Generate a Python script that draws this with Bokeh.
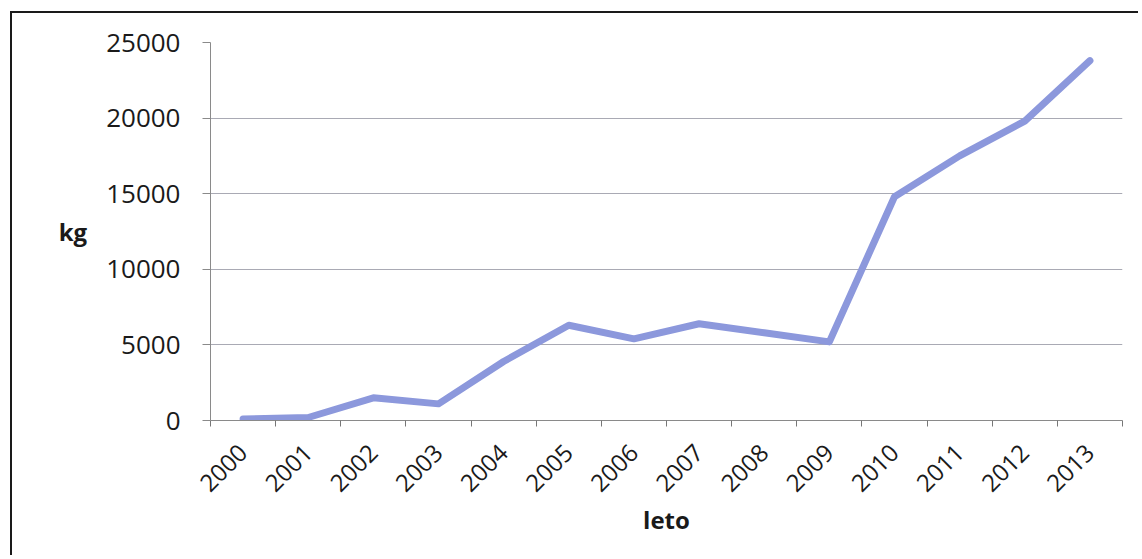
import math
from bokeh.plotting import figure
from bokeh.models import FixedTicker, Range1d
from bokeh.embed import file_html
from bokeh.resources import INLINE

years = ["2000", "2001", "2002", "2003", "2004", "2005", "2006",
         "2007", "2008", "2009", "2010", "2011", "2012", "2013"]
kg = [100, 200, 1500, 1100, 3900, 6300, 5400,
      6400, 5800, 5200, 14800, 17500, 19800, 23800]
y_ticks = [0, 5000, 10000, 15000, 20000, 25000]

xs = [i + 0.5 for i in range(len(years))]

p = figure(width=1128, height=544, output_backend="svg", toolbar_location=None,
           x_range=Range1d(0, len(years)), y_range=Range1d(0, 25000),
           min_border_left=198, min_border_top=29, min_border_right=18,
           min_border_bottom=137)
p.margin = (11, 0, 0, 10)
p.styles = {"border-left": "2px solid #1a1a1a", "border-top": "2px solid #1a1a1a",
            "border-right": "0px none", "border-bottom": "0px none"}
p.outline_line_color = None
p.background_fill_color = "white"
p.border_fill_color = "white"

p.line(xs, kg, line_color="#8c98dc", line_width=7, line_join="round", line_cap="round")

# x axis
p.xaxis.ticker = FixedTicker(ticks=xs, minor_ticks=list(range(len(years) + 1)))
p.xaxis.major_label_overrides = {x: y for x, y in zip(xs, years)}
p.xaxis.major_label_orientation = math.pi / 4
p.xaxis.major_tick_line_color = None
p.xaxis.major_tick_out = 0
p.xaxis.major_tick_in = 0
p.xaxis.minor_tick_line_color = "#777777"
p.xaxis.minor_tick_out = 6
p.xaxis.minor_tick_in = 0
p.xaxis.major_label_standoff = 22
p.xaxis.major_label_text_font = "Open Sans"
p.xaxis.major_label_text_font_size = "24px"
p.xaxis.major_label_text_color = "#1a1a1a"
p.xaxis.axis_line_color = "#8a8a8a"
p.xaxis.axis_label = "leto"
p.xaxis.axis_label_text_font = "Open Sans"
p.xaxis.axis_label_text_font_style = "bold"
p.xaxis.axis_label_text_font_size = "24px"
p.xaxis.axis_label_text_color = "#1a1a1a"
p.xaxis.axis_label_standoff = 1

# y axis
p.yaxis.ticker = FixedTicker(ticks=y_ticks, minor_ticks=[])
p.yaxis.major_tick_line_color = "#8a8a8a"
p.yaxis.major_tick_out = 8
p.yaxis.major_tick_in = 0
p.yaxis.major_label_standoff = 22
p.yaxis.major_label_text_font = "Open Sans"
p.yaxis.major_label_text_font_size = "26px"
p.yaxis.major_label_text_color = "#1a1a1a"
p.yaxis.axis_line_color = "#8a8a8a"
p.yaxis.axis_label = "kg"
p.yaxis.axis_label_orientation = "horizontal"
p.yaxis.axis_label_text_font = "Open Sans"
p.yaxis.axis_label_text_font_style = "bold"
p.yaxis.axis_label_text_font_size = "24px"
p.yaxis.axis_label_text_color = "#1a1a1a"
p.yaxis.axis_label_standoff = 16

p.xgrid.grid_line_color = None
p.ygrid.grid_line_color = "#a9aab4"
p.ygrid.grid_line_width = 1

open("out.html", "w").write(file_html(p, INLINE))
